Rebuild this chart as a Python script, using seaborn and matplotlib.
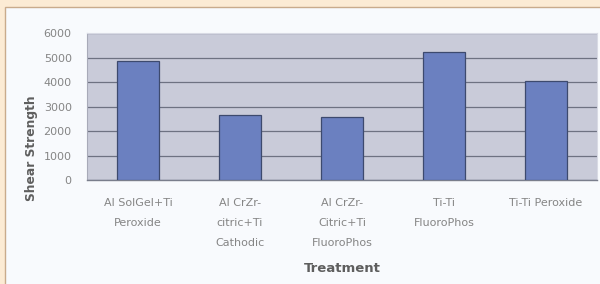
import matplotlib
matplotlib.use("Agg")
import matplotlib.pyplot as plt
from matplotlib.patches import Rectangle
import seaborn as sns

treatments = ["Al SolGel+Ti\nPeroxide", "Al CrZr-\ncitric+Ti\nCathodic",
              "Al CrZr-\nCitric+Ti\nFluoroPhos", "Ti-Ti\nFluoroPhos", "Ti-Ti Peroxide"]
shear_strength = [4860, 2650, 2580, 5240, 4040]
y_ticks = [0, 1000, 2000, 3000, 4000, 5000, 6000]

sns.set_style("white")
plt.rcParams['font.family'] = ['DejaVu Sans']

fig = plt.figure(figsize=(6, 2.84), dpi=100, facecolor='#fcebd4')
# white inner panel with a thin tan border
fig.patches.append(Rectangle((5 / 600, -0.01), 1.0, (277 / 284) + 0.01, transform=fig.transFigure,
                             facecolor='#f8fafd', edgecolor='#c9ab8c', linewidth=1.0, zorder=-10))

ax = fig.add_axes([87 / 600, 1 - 180 / 284, 510 / 600, 147 / 284])
ax.set_facecolor('#c9cbd9')

sns.barplot(x=treatments, y=shear_strength, color='#6b80c0', edgecolor='#3d4a6e',
            linewidth=0.9, width=0.41, saturation=1, ax=ax, zorder=3)

ax.set_ylim(0, 6000)
ax.set_yticks(y_ticks)
ax.set_yticklabels([str(v) for v in y_ticks])
ax.yaxis.grid(True, color='#6e7282', linewidth=0.9, zorder=1)
ax.set_axisbelow(True)

for side in ['top', 'right']:
    ax.spines[side].set_color('#d8dae4')
    ax.spines[side].set_linewidth(0.8)
ax.spines['left'].set_color('#a8aab8')
ax.spines['left'].set_linewidth(0.8)
ax.spines['bottom'].set_color('#7a7e8c')
ax.spines['bottom'].set_linewidth(1.0)

ax.tick_params(axis='y', length=0, pad=11, labelsize=8, labelcolor='#858585')
ax.tick_params(axis='x', length=0, pad=13, labelsize=8, labelcolor='#858585')
for lbl in ax.get_xticklabels():
    lbl.set_linespacing(2.25)
    lbl.set_verticalalignment('top')

# tick marks between the categories
ax.set_xticks([i + 0.5 for i in range(len(treatments) - 1)], minor=True)
ax.tick_params(axis='x', which='minor', length=4, color='#a0a4b0', width=0.8)

ax.set_xlabel("Treatment", fontsize=9.5, color='#5e5e5e', fontweight='bold', va='center')
ax.xaxis.set_label_coords(0.5, (180 - 269) / 147)
ax.set_ylabel("Shear Strength", fontsize=8.8, color='#5e5e5e', fontweight='bold', va='center')
ax.yaxis.set_label_coords((32 - 87) / 510, (180 - 148) / 147)

fig.savefig("out.png", dpi=100, facecolor=fig.get_facecolor())
